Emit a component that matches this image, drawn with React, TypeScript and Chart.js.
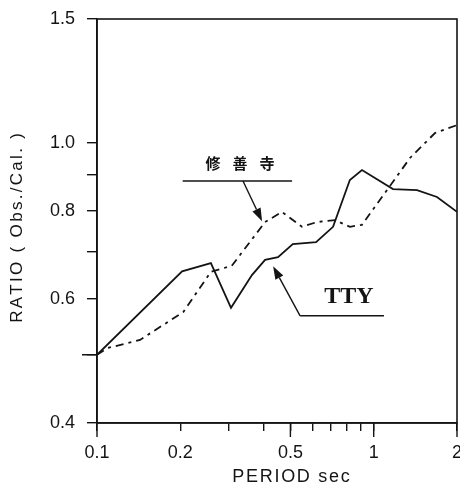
import React, { useEffect, useRef } from "react";
import { Chart, registerables } from "chart.js";

Chart.register(...registerables);

// ---- data ----
const periodTTY = [0.1, 0.203, 0.258, 0.305, 0.363, 0.405, 0.451, 0.51, 0.619, 0.713, 0.82, 0.907, 1.174, 1.434, 1.693, 2];
const ratioTTY = [0.5, 0.657, 0.675, 0.583, 0.649, 0.682, 0.688, 0.718, 0.723, 0.76, 0.886, 0.915, 0.86, 0.857, 0.838, 0.798];

const periodShuzenji = [0.1, 0.109, 0.143, 0.205, 0.258, 0.307, 0.405, 0.466, 0.551, 0.624, 0.725, 0.82, 0.907, 1.353, 1.665, 2];
const ratioShuzenji = [0.5, 0.511, 0.525, 0.575, 0.656, 0.669, 0.772, 0.798, 0.76, 0.772, 0.777, 0.76, 0.765, 0.952, 1.033, 1.06];

const xTickValues = [0.1, 0.2, 0.3, 0.4, 0.5, 0.6, 0.7, 0.8, 0.9, 1, 2];
const xTickLabels: Record<string, string> = { "0.1": "0.1", "0.2": "0.2", "0.5": "0.5", "1": "1", "2": "2" };
const xLongTicks = [0.1, 0.5, 1, 2];
const yTickValues = [0.4, 0.5, 0.6, 0.7, 0.8, 0.9, 1.0, 1.5];
const yTickLabels: Record<string, string> = { "0.4": "0.4", "0.6": "0.6", "0.8": "0.8", "1": "1.0", "1.5": "1.5" };
const yLongTicks = [0.5];

const xTitle = "PERIOD sec";
const yTitle = "RATIO ( Obs./Cal. )";

// ---- annotation placement, in data coordinates ----
const shuzenjiNote = {
  label: "修善寺",
  textAt: [0.329, 0.936],
  lineFrom: [0.204, 0.883],
  lineTo: [0.507, 0.883],
  arrowFrom: [0.337, 0.883],
  arrowTo: [0.395, 0.774],
};
const ttyNote = {
  label: "TTY",
  textAt: [0.814, 0.606],
  lineFrom: [0.542, 0.568],
  lineTo: [1.089, 0.568],
  arrowFrom: [0.542, 0.568],
  arrowTo: [0.433, 0.668],
};

const INK = "#141414";
const SANS = "Liberation Sans";

function drawArrow(ctx: CanvasRenderingContext2D, x1: number, y1: number, x2: number, y2: number) {
  const ang = Math.atan2(y2 - y1, x2 - x1);
  const len = 13;
  const hw = 4.5;
  const bx = x2 - len * Math.cos(ang);
  const by = y2 - len * Math.sin(ang);
  ctx.beginPath();
  ctx.moveTo(x1, y1);
  ctx.lineTo(bx, by);
  ctx.stroke();
  ctx.beginPath();
  ctx.moveTo(x2, y2);
  ctx.lineTo(bx + hw * Math.sin(ang), by - hw * Math.cos(ang));
  ctx.lineTo(bx - hw * Math.sin(ang), by + hw * Math.cos(ang));
  ctx.closePath();
  ctx.fill();
}

function drawSpaced(ctx: CanvasRenderingContext2D, text: string, cx: number, cy: number, spacing: number) {
  const chars = Array.from(text);
  const widths = chars.map((c) => ctx.measureText(c).width);
  const total = widths.reduce((a, b) => a + b, 0) + spacing * (chars.length - 1);
  let x = cx - total / 2;
  ctx.textAlign = "left";
  ctx.textBaseline = "middle";
  chars.forEach((c, i) => {
    ctx.fillText(c, x, cy);
    x += widths[i] + spacing;
  });
}

const framePlugin = {
  id: "frame",
  afterDatasetsDraw(chart: any) {
    const { ctx, chartArea: a, scales } = chart;
    const xs = scales.x;
    const ys = scales.y;
    const P = (p: number[]) => [xs.getPixelForValue(p[0]), ys.getPixelForValue(p[1])];
    ctx.save();
    ctx.strokeStyle = INK;
    ctx.fillStyle = INK;
    ctx.lineWidth = 1.6;
    // frame
    ctx.strokeRect(a.left, a.top, a.right - a.left, a.bottom - a.top);

    // longer ticks
    ctx.lineWidth = 1.4;
    ctx.beginPath();
    for (const v of xLongTicks) {
      const px = xs.getPixelForValue(v);
      ctx.moveTo(px, a.bottom);
      ctx.lineTo(px, a.bottom + 14);
    }
    for (const v of yLongTicks) {
      const py = ys.getPixelForValue(v);
      ctx.moveTo(a.left, py);
      ctx.lineTo(a.left - 15, py);
    }
    ctx.stroke();

    // notes
    for (const note of [shuzenjiNote, ttyNote]) {
      const [lx1, ly1] = P(note.lineFrom);
      const [lx2, ly2] = P(note.lineTo);
      ctx.lineWidth = 1.4;
      ctx.beginPath();
      ctx.moveTo(lx1, ly1);
      ctx.lineTo(lx2, ly2);
      ctx.stroke();
      const [ax1, ay1] = P(note.arrowFrom);
      const [ax2, ay2] = P(note.arrowTo);
      drawArrow(ctx, ax1, ay1, ax2, ay2);
    }
    // 修善寺 label (spaced characters)
    {
      const [tx, ty] = P(shuzenjiNote.textAt);
      ctx.font = 'bold 15px "Noto Sans CJK JP"';
      ctx.textAlign = "center";
      ctx.textBaseline = "middle";
      const chars = Array.from(shuzenjiNote.label);
      const pitch = 27;
      chars.forEach((c, i) => {
        ctx.fillText(c, tx + (i - (chars.length - 1) / 2) * pitch, ty);
      });
    }
    {
      const [tx, ty] = P(ttyNote.textAt);
      ctx.font = 'bold 24px "Liberation Serif"';
      ctx.textAlign = "center";
      ctx.textBaseline = "middle";
      ctx.fillText(ttyNote.label, tx, ty + 1);
    }

    // axis titles (letter-spaced)
    ctx.font = `18px "${SANS}"`;
    drawSpaced(ctx, xTitle, (a.left + a.right) / 2 + 14, 477, 1.7);
    ctx.save();
    ctx.translate(17, (a.top + a.bottom) / 2 + 7);
    ctx.rotate(-Math.PI / 2);
    ctx.font = `17px "${SANS}"`;
    drawSpaced(ctx, yTitle, 0, 0, 2.3);
    ctx.restore();

    ctx.restore();
  },
};

export default function App() {
  const ref = useRef<HTMLCanvasElement | null>(null);
  useEffect(() => {
    if (!ref.current) return;
    const chart = new Chart(ref.current, {
      type: "line",
      data: {
        datasets: [
          {
            label: "TTY",
            data: periodTTY.map((p, i) => ({ x: p, y: ratioTTY[i] })),
            borderColor: INK,
            borderWidth: 1.8,
            pointRadius: 0,
            fill: false,
            tension: 0,
          },
          {
            label: "修善寺",
            data: periodShuzenji.map((p, i) => ({ x: p, y: ratioShuzenji[i] })),
            borderColor: INK,
            borderWidth: 1.8,
            borderDash: [8, 5, 3, 5],
            pointRadius: 0,
            fill: false,
            tension: 0,
          },
        ],
      },
      options: {
        animation: false,
        responsive: false,
        layout: { padding: { top: 19, right: 3, left: 0, bottom: 0 } },
        plugins: { legend: { display: false }, tooltip: { enabled: false } },
        scales: {
          x: {
            type: "logarithmic",
            min: 0.1,
            max: 2,
            afterBuildTicks: (s: any) => {
              s.ticks = xTickValues.map((v) => ({ value: v }));
            },
            afterFit: (s: any) => {
              s.height = 66;
              s.paddingLeft = 0;
              s.paddingRight = 0;
            },
            grid: { drawOnChartArea: false, tickLength: 8, color: INK, lineWidth: 1.4 },
            border: { display: true, color: INK, width: 1.6 },
            ticks: {
              autoSkip: false,
              maxRotation: 0,
              padding: 11,
              color: INK,
              font: { family: SANS, size: 18 },
              callback: (v: any) => xTickLabels[String(v)] ?? "",
            },
            title: { display: false },
          },
          y: {
            type: "logarithmic",
            min: 0.4,
            max: 1.5,
            afterBuildTicks: (s: any) => {
              s.ticks = yTickValues.map((v) => ({ value: v }));
            },
            afterFit: (s: any) => {
              s.width = 97;
              s.paddingTop = 0;
              s.paddingBottom = 0;
            },
            grid: { drawOnChartArea: false, tickLength: 10, color: INK, lineWidth: 1.4 },
            border: { display: true, color: INK, width: 1.6 },
            ticks: {
              autoSkip: false,
              padding: 12,
              color: INK,
              font: { family: SANS, size: 18 },
              callback: (v: any) => yTickLabels[String(v)] ?? "",
            },
            title: { display: false },
          },
        },
      },
      plugins: [framePlugin],
    } as any);
    return () => chart.destroy();
  }, []);
  return (
    <div style={{ position: "absolute", left: 0, top: 0, width: 460, height: 489, background: "#fff" }}>
      <canvas ref={ref} width={460} height={489} style={{ display: "block" }} />
    </div>
  );
}
